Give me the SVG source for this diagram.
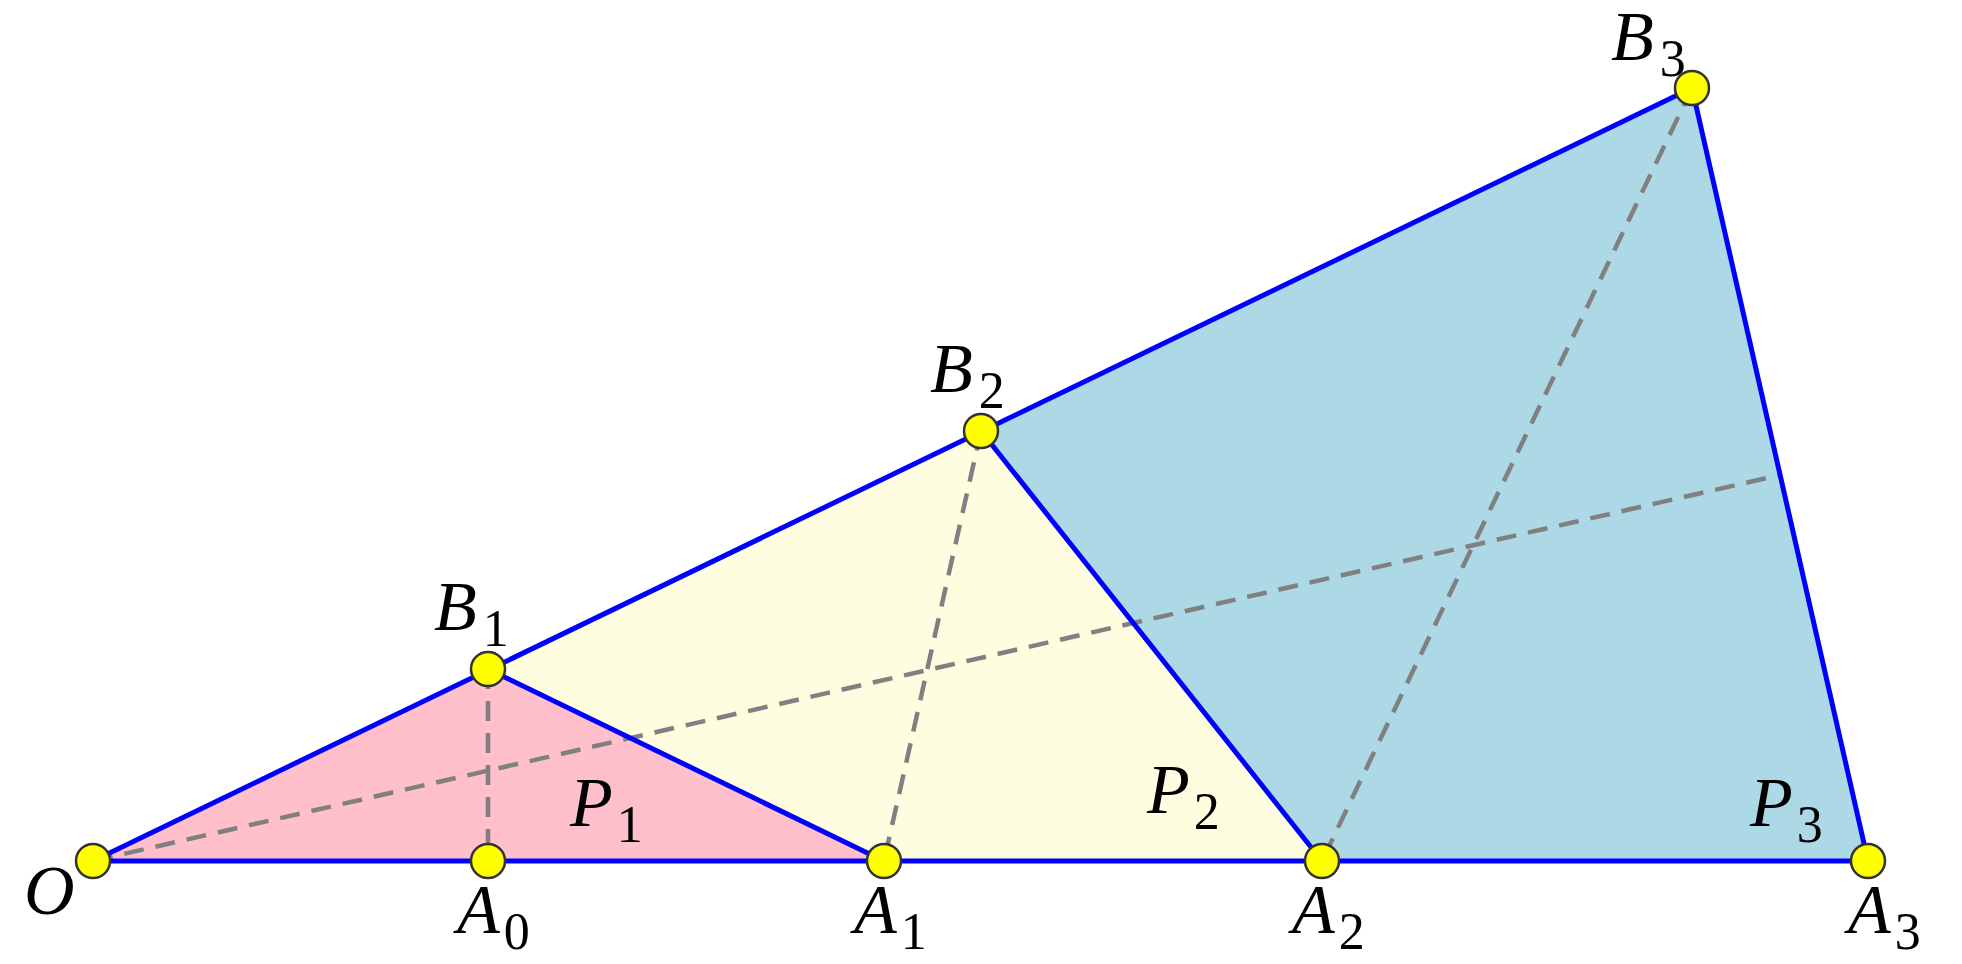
<svg xmlns="http://www.w3.org/2000/svg" width="1962" height="964" viewBox="0 0 1962 964">
<style>
.edge{stroke:#0000ff;stroke-width:5;fill:none;stroke-linecap:round}
.dash{stroke:#808080;stroke-width:4.5;fill:none;stroke-dasharray:20 12}
.pt{fill:#ffff00;stroke:#333333;stroke-width:2.5}
.lbl{font-family:"Liberation Serif","DejaVu Serif",serif;font-style:italic;font-size:70px;fill:#000}
.sub{font-style:normal;font-size:52px}
</style>
<rect width="1962" height="964" fill="#ffffff"/>
<g id="regions">
<polygon points="93,861 488,669 884,861" fill="#ffc0cb"/>
<polygon points="488,669 981,431 1322,861 884,861" fill="#fffde0"/>
<polygon points="981,431 1692,88 1868,861 1322,861" fill="#add8e6"/>
</g>
<g id="connectors">
<line class="dash" x1="488" y1="669" x2="488" y2="861"/>
<line class="dash" x1="981" y1="431" x2="884" y2="861"/>
<line class="dash" x1="1692" y1="88" x2="1322" y2="861"/>
<line class="dash" x1="93" y1="861" x2="1780" y2="475"/>
<line class="edge" x1="93" y1="861" x2="1868" y2="861"/>
<line class="edge" x1="93" y1="861" x2="1692" y2="88"/>
<line class="edge" x1="488" y1="669" x2="884" y2="861"/>
<line class="edge" x1="981" y1="431" x2="1322" y2="861"/>
<line class="edge" x1="1692" y1="88" x2="1868" y2="861"/>
</g>
<g id="O"><circle class="pt" cx="93" cy="861" r="17"/><text class="lbl" x="24" y="914">O</text></g>
<g id="A0"><circle class="pt" cx="488" cy="861" r="17"/><text class="lbl" x="457" y="933">A<tspan class="sub" dx="4" dy="16">0</tspan></text></g>
<g id="A1"><circle class="pt" cx="884" cy="861" r="17"/><text class="lbl" x="854" y="933">A<tspan class="sub" dx="4" dy="16">1</tspan></text></g>
<g id="A2"><circle class="pt" cx="1322" cy="861" r="17"/><text class="lbl" x="1292" y="933">A<tspan class="sub" dx="4" dy="16">2</tspan></text></g>
<g id="A3"><circle class="pt" cx="1868" cy="861" r="17"/><text class="lbl" x="1848" y="933">A<tspan class="sub" dx="4" dy="16">3</tspan></text></g>
<g id="B1"><circle class="pt" cx="488" cy="669" r="17"/><text class="lbl" x="434" y="630">B<tspan class="sub" dx="6" dy="16">1</tspan></text></g>
<g id="B2"><circle class="pt" cx="981" cy="431" r="17"/><text class="lbl" x="930" y="392">B<tspan class="sub" dx="6" dy="16">2</tspan></text></g>
<g id="B3"><circle class="pt" cx="1692" cy="88" r="17"/><text class="lbl" x="1611" y="60">B<tspan class="sub" dx="6" dy="16">3</tspan></text></g>
<g id="P1"><text class="lbl" x="570" y="826">P<tspan class="sub" dx="4" dy="16">1</tspan></text></g>
<g id="P2"><text class="lbl" x="1147" y="813">P<tspan class="sub" dx="4" dy="16">2</tspan></text></g>
<g id="P3"><text class="lbl" x="1750" y="826">P<tspan class="sub" dx="4" dy="16">3</tspan></text></g>
</svg>
